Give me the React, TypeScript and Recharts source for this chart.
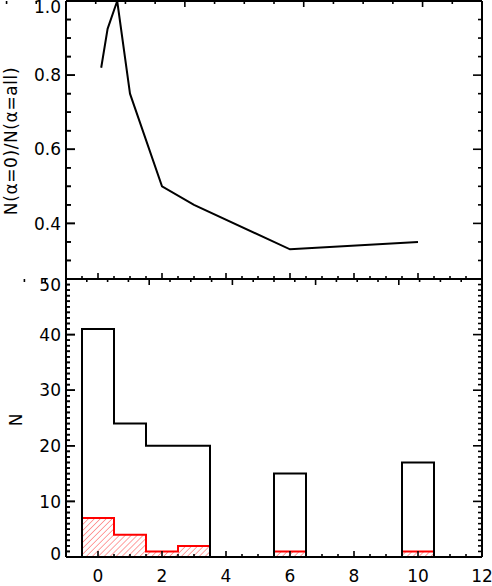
import { LineChart, Line, ComposedChart, Area, XAxis, YAxis, ReferenceLine } from 'recharts'

// top panel: fraction of alpha=0 sources
const ratioX = [0.1, 0.3, 0.6, 1, 2, 3, 6, 10]
const ratioY = [0.82, 0.925, 1.0, 0.75, 0.5, 0.45, 0.33, 0.35]

// bottom panel: histogram, step edges
const binEdges = [-1, -0.5, 0.5, 1.5, 2.5, 3.5, 5.5, 6.5, 9.5, 10.5, 11]
const countAll = [0, 41, 24, 20, 20, 0, 15, 0, 17, 0, 0]
const countZero = [0, 7, 4, 1, 2, 0, 1, 0, 1, 0, 0]

const xMajor = [0, 2, 4, 6, 8, 10, 12]
const ratioMajor = [0.4, 0.6, 0.8, 1.0]
const countMajor = [0, 10, 20, 30, 40, 50]

const range = (a: number, b: number, s: number) => {
  const out: number[] = []
  const n = Math.round((b - a) / s)
  for (let i = 0; i <= n; i++) out.push(+(a + i * s).toFixed(4))
  return out
}

const xTicks = range(-1, 12, 0.5)
const ratioTicks = range(0.25, 1.0, 0.05)
const countTicks = range(0, 50, 1)

const ratioData = ratioX.map((x, i) => ({ x, ratio: ratioY[i] }))
const histData = binEdges.map((x, i) => ({ x, all: countAll[i], zero: countZero[i] }))

const FONT = 'DejaVu Sans'
const X0 = -1
const X1 = 12
const PX = 1 / 32 // x data units per pixel

type Side = 'left' | 'bottom' | 'top'

const isMajor = (v: number, majors: number[]) => majors.some((m) => Math.abs(m - v) < 1e-6)

// inward ticks, labels only on the major ones
function AxisTick(props: any) {
  const { x, y, payload, side, majors, majorLen, minorLen, fmt, lo, hi } = props
  const v = payload.value
  const major = isMajor(v, majors)
  const len = major ? majorLen : minorLen
  const s = side as Side
  const px = Number(x)
  const py = Number(y)
  return (
    <g>
      {s === 'left' && <rect x={px} y={py - 0.8} width={len} height={1.6} fill="#000" />}
      {s === 'bottom' && <rect x={px - 0.8} y={py - len} width={1.6} height={len} fill="#000" />}
      {s === 'top' && <rect x={px - 0.8} y={py} width={1.6} height={len} fill="#000" />}
      {major && fmt && s === 'left' && (
        <text x={px - 5} y={Math.min(Math.max(py, lo), hi)} dy="0.36em" textAnchor="end"
          fontFamily={FONT} fontSize={17} fill="#000">{fmt(v)}</text>
      )}
      {major && fmt && s === 'bottom' && (
        <text x={px} y={py + 25} textAnchor="middle" fontFamily={FONT} fontSize={17} fill="#000">
          {fmt(v)}
        </text>
      )}
    </g>
  )
}

const tickFn = (side: Side, majors: number[], majorLen: number, minorLen: number,
  fmt?: (v: number) => string, lo = 0, hi = 1000) =>
  (p: any) => <AxisTick {...p} side={side} majors={majors} majorLen={majorLen} minorLen={minorLen}
    fmt={fmt} lo={lo} hi={hi} />

// y tick marks on both vertical borders, drawn through the chart's scales
const yTickLines = (ticks: number[], majors: number[], leftMajor: number, leftMinor: number) =>
  ticks.flatMap((v) => {
    const major = isMajor(v, majors)
    const l = (major ? leftMajor : leftMinor) * PX
    const r = (major ? 9 : 4) * PX
    return [
      <ReferenceLine key={`l${v}`} ifOverflow="visible" segment={[{ x: X0, y: v }, { x: X0 + l, y: v }]}
        stroke="#000" strokeWidth={1.6} />,
      <ReferenceLine key={`r${v}`} ifOverflow="visible" segment={[{ x: X1 - r, y: v }, { x: X1, y: v }]}
        stroke="#000" strokeWidth={1.6} />,
    ]
  })

const axisLine = () => ({ stroke: '#000', strokeWidth: 2 })

export default function App() {
  return (
    <div style={{ position: 'absolute', left: 0, top: 0, width: 492, height: 586, background: '#fff' }}>
      <div style={{ position: 'absolute', left: 0, top: 0 }}>
        <LineChart width={492} height={280} data={ratioData}
          margin={{ top: 0, right: 0, bottom: 0, left: 10 }}>
          <XAxis dataKey="x" type="number" domain={[X0, X1]} ticks={xTicks} interval={0}
            height={1} tickSize={0} tickMargin={0} tickLine={false} axisLine={axisLine()}
            tick={tickFn('bottom', xMajor, 6, 3)} />
          <XAxis xAxisId="top" orientation="top" type="number" domain={[X0, X1]} ticks={xTicks} interval={0}
            height={1} tickSize={0} tickMargin={0} tickLine={false} axisLine={axisLine()}
            tick={tickFn('top', xMajor, 6, 3)} />
          <YAxis type="number" domain={[0.25, 1.0]} ticks={ratioTicks} interval={0} width={56}
            tickSize={0} tickMargin={0} tickLine={false} axisLine={axisLine()}
            tick={tickFn('left', ratioMajor, 9, 5, (v) => v.toFixed(1), 7)} />
          <YAxis yAxisId="right" orientation="right" type="number" domain={[0.25, 1.0]} ticks={[]}
            width={10} tickSize={0} tickMargin={0} tickLine={false} axisLine={axisLine()} tick={false} />
          {yTickLines(ratioTicks, ratioMajor, 9, 5)}
          <Line dataKey="ratio" type="linear" stroke="#000" strokeWidth={2} dot={false}
            isAnimationActive={false} />
          <text x={17} y={141} transform="rotate(-90 17 141)" textAnchor="middle"
            fontFamily={FONT} fontSize={17} letterSpacing={0.6} fill="#000">N(α=0)/N(α=all)</text>
        </LineChart>
      </div>
      <div style={{ position: 'absolute', left: 0, top: 268 }}>
        <ComposedChart width={492} height={318} data={histData}
          margin={{ top: 10, right: 0, bottom: 0, left: 10 }}>
          <defs>
            <pattern id="hatch" patternUnits="userSpaceOnUse" width={4.2} height={4.2}
              patternTransform="rotate(45)">
              <line x1={0} y1={0} x2={0} y2={4.2} stroke="#ff3030" strokeWidth={0.9} />
            </pattern>
          </defs>
          <XAxis dataKey="x" type="number" domain={[X0, X1]} ticks={xTicks} interval={0}
            height={29} tickSize={0} tickMargin={0} tickLine={false} axisLine={axisLine()}
            tick={tickFn('bottom', xMajor, 6, 3, (v) => String(v))} />
          <XAxis xAxisId="top" orientation="top" type="number" domain={[X0, X1]} ticks={xTicks} interval={0}
            height={1} tickSize={0} tickMargin={0} tickLine={false} axisLine={axisLine()}
            tick={tickFn('top', xMajor, 6, 3)} />
          <YAxis type="number" domain={[0, 50]} ticks={countTicks} interval={0} width={56}
            tickSize={0} tickMargin={0} tickLine={false} axisLine={axisLine()}
            tick={tickFn('left', countMajor, 9, 4, (v) => String(v), 17, 286)} />
          <YAxis yAxisId="right" orientation="right" type="number" domain={[0, 50]} ticks={[]}
            width={10} tickSize={0} tickMargin={0} tickLine={false} axisLine={axisLine()} tick={false} />
          {yTickLines(countTicks, countMajor, 9, 4)}
          <Line dataKey="all" type="stepAfter" stroke="#000" strokeWidth={2} dot={false}
            isAnimationActive={false} />
          <Area dataKey="zero" type="stepAfter" stroke="#ff0000" strokeWidth={2} fill="url(#hatch)"
            fillOpacity={1} dot={false} isAnimationActive={false} />
          <text x={22} y={152} transform="rotate(-90 22 152)" textAnchor="middle"
            fontFamily={FONT} fontSize={17} fill="#000">N</text>
        </ComposedChart>
      </div>
    </div>
  )
}
